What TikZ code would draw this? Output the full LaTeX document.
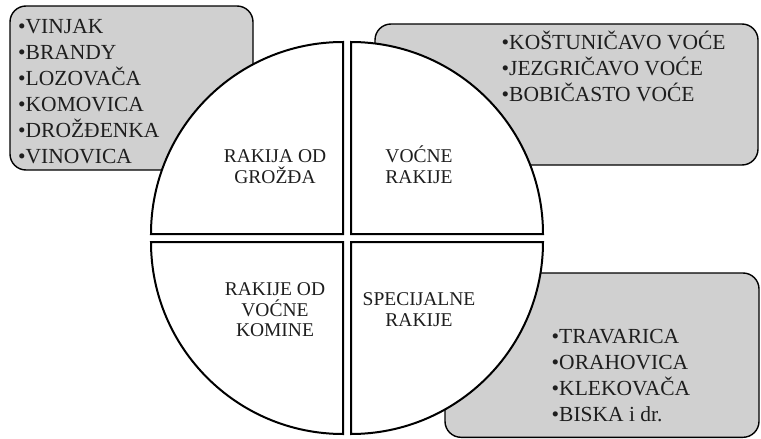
\documentclass[tikz,border=0pt]{standalone}
\usepackage{fontspec}
\setmainfont{Liberation Serif}
\definecolor{boxgray}{RGB}{208,208,208}
\definecolor{ink}{RGB}{30,30,30}
\begin{document}
\begin{tikzpicture}[x=1pt,y=-1pt,
  listbox/.style={draw=black, line width=1.4pt, fill=boxgray, rounded corners=16pt},
  sector/.style={draw=black, line width=2pt, fill=white, line join=miter},
  itemtext/.style={font=\fontsize{21.5}{26}\selectfont, text=ink, inner sep=0pt, align=left, anchor=base west},
  seclabel/.style={font=\fontsize{19.5}{20.5}\selectfont, text=ink, inner sep=0pt, align=center, anchor=base}]
\useasboundingbox (0,0) rectangle (761,439);
% list boxes (behind the circle)
\draw[listbox] (10,6) rectangle (253,170);
\draw[listbox] (375,24) rectangle (758,165);
\draw[listbox] (445,273) rectangle (759,437.3);
% four quarter sectors
\draw[sector] (343,234) -- (151,234) arc[start angle=180, end angle=270, radius=192] -- cycle;
\draw[sector] (351,234) -- (351,42) arc[start angle=270, end angle=360, radius=192] -- cycle;
\draw[sector] (351,242) -- (543,242) arc[start angle=0, end angle=90, radius=192] -- cycle;
\draw[sector] (343,242) -- (343,434) arc[start angle=90, end angle=180, radius=192] -- cycle;
% sector labels (anchored at the baseline of the last line)
\node[seclabel] (grozdje) at (275,183) {RAKIJA OD\\GROŽĐA};
\node[seclabel] (vocne) at (419,183) {VOĆNE\\RAKIJE};
\node[seclabel] (komine) at (275,336.7) {RAKIJE OD\\VOĆNE\\KOMINE};
\node[seclabel] (specijalne) at (419,326) {SPECIJALNE\\RAKIJE};
% item lists (anchored at the baseline of the last line)
\node[itemtext] (list1) at (18,163.5) {•VINJAK\\•BRANDY\\•LOZOVAČA\\•KOMOVICA\\•DROŽĐENKA\\•VINOVICA};
\node[itemtext] (list2) at (501.5,101.5) {•KOŠTUNIČAVO VOĆE\\•JEZGRIČAVO VOĆE\\•BOBIČASTO VOĆE};
\node[itemtext] (list3) at (551.5,421) {•TRAVARICA\\•ORAHOVICA\\•KLEKOVAČA\\•BISKA i dr.};
\end{tikzpicture}
\end{document}
